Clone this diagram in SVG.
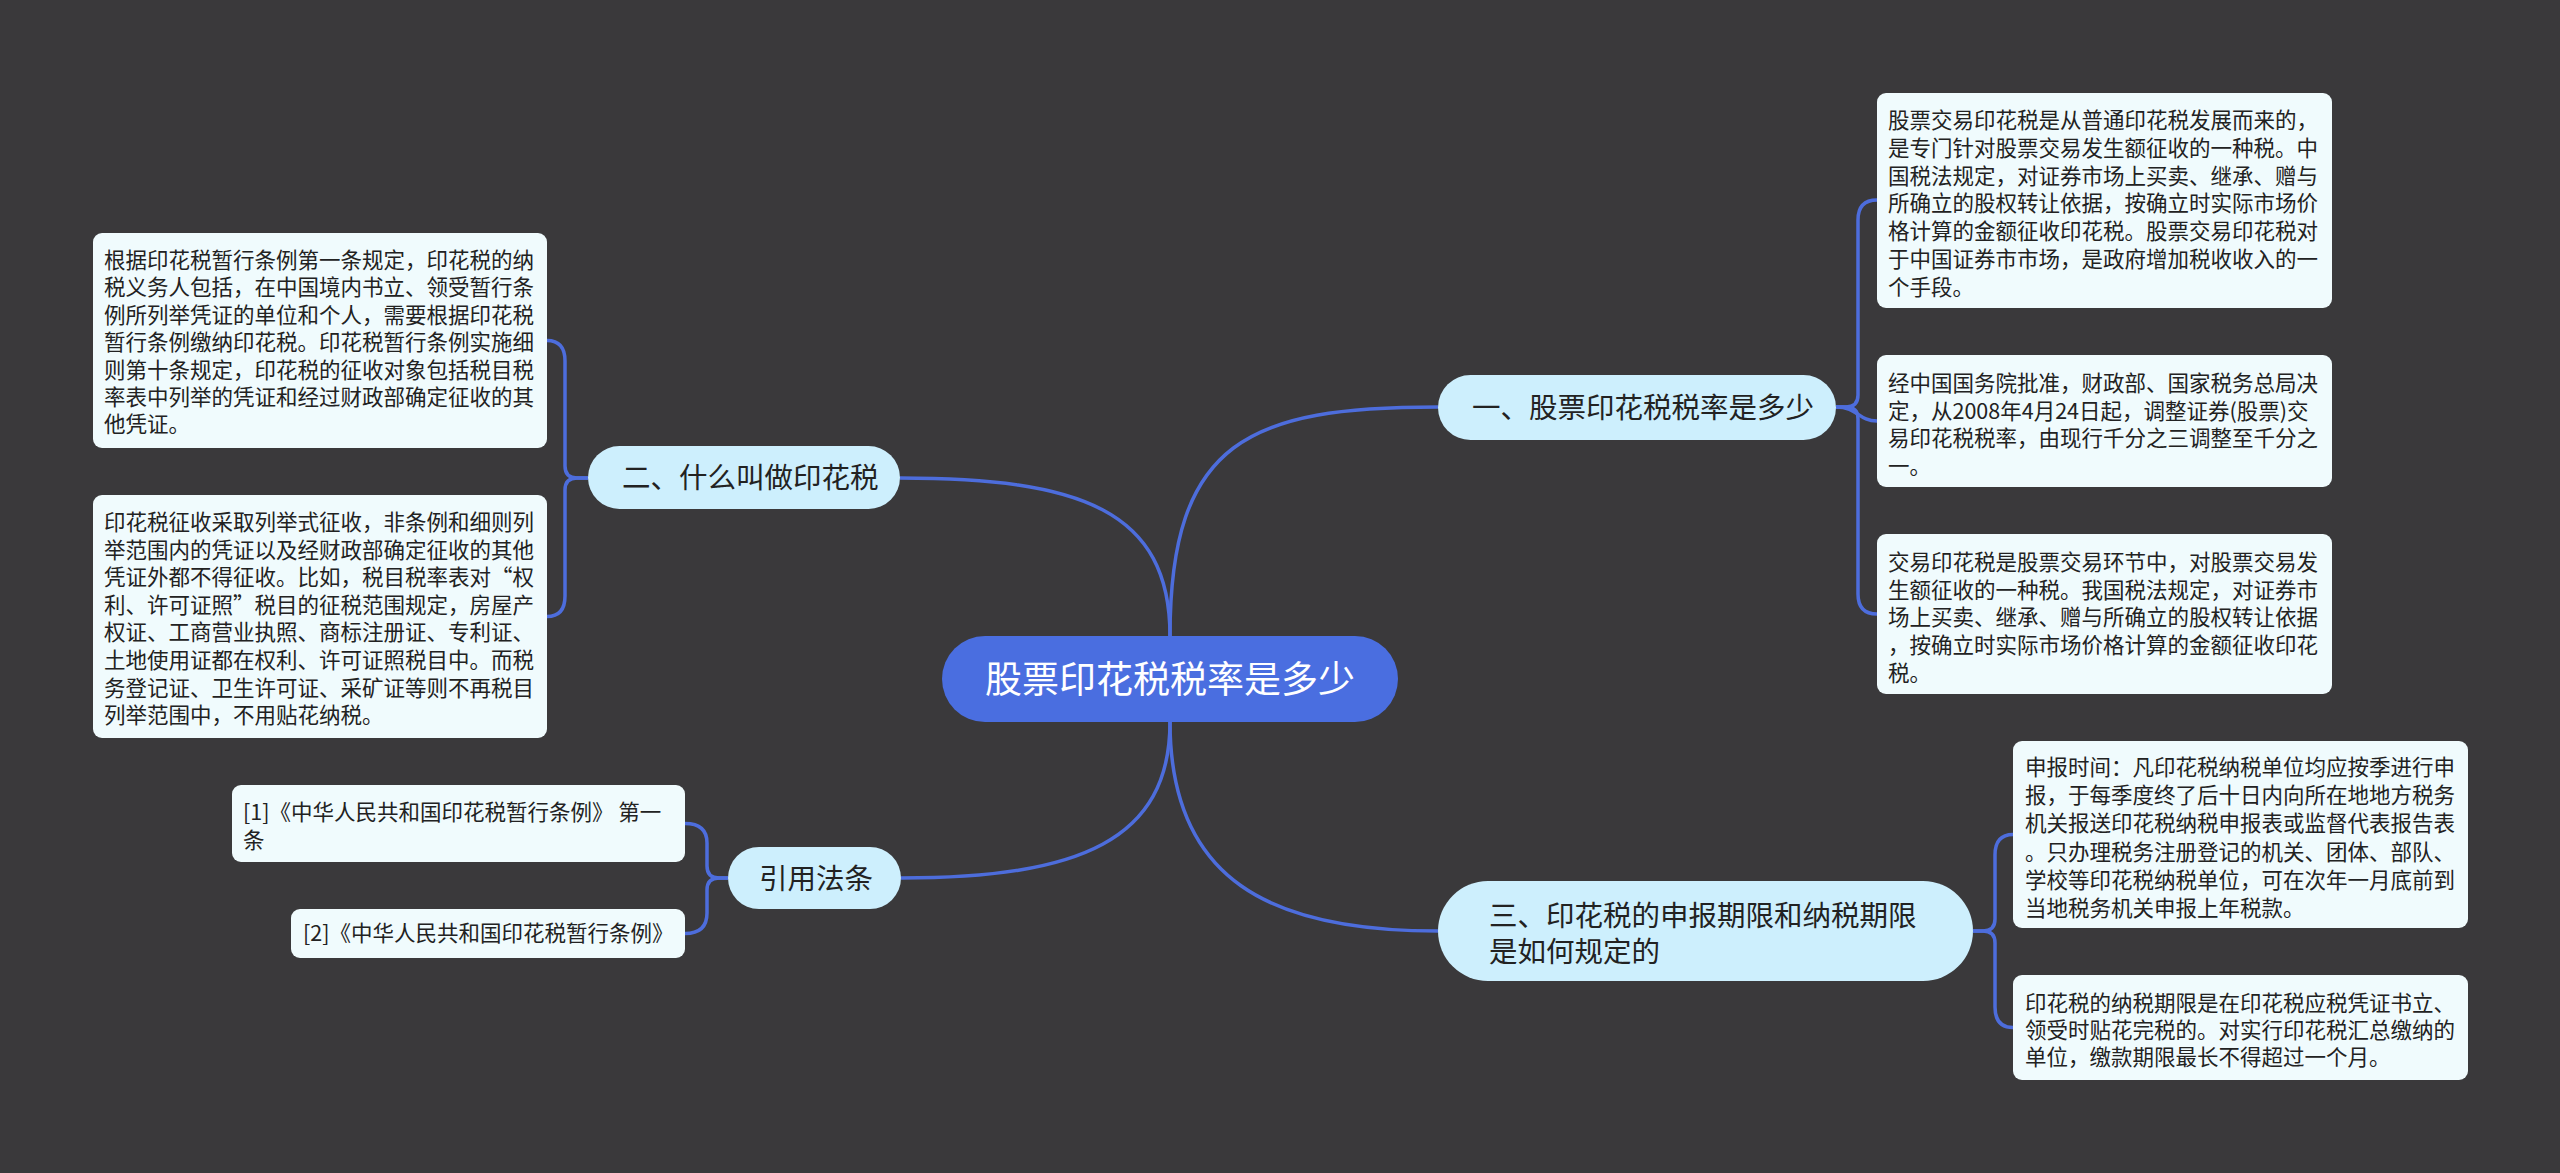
<svg xmlns="http://www.w3.org/2000/svg" width="2560" height="1173" viewBox="0 0 2560 1173">
<style>
text{font-family:"Noto Sans CJK SC","Noto Sans",sans-serif;}
.leaf rect{fill:#f0fbfd;}
.leaf text{font-size:21.5px;fill:#222;}
.branch rect{fill:#cdeffd;}
.branch text{font-size:28.5px;fill:#222;}
.root rect{fill:#4a6ee0;}
.root text{font-size:37px;fill:#fff;}
#connectors path{fill:none;stroke:#4d6ddc;stroke-width:3.5;}
</style>
<rect width="2560" height="1173" fill="#3a393b"/>
<g id="connectors">
<path d="M1170,636 C1170,440 1250,407 1438,407"/>
<path d="M1170,636 C1170,510 1080,478 900,478"/>
<path d="M1170,722 C1170,880 1270,931 1438,931"/>
<path d="M1170,722 C1170,840 1080,878 901,878"/>
<path d="M1836,407 H1846 Q1858,407 1858,395 V220 Q1858,200 1877,200"/>
<path d="M1836,407 C1858,407 1858,421 1877,421"/>
<path d="M1836,407 H1846 Q1858,407 1858,419 V594 Q1858,614 1877,614"/>
<path d="M1973,931 H1983 Q1995,931 1995,919 V855 Q1995,834.5 2013,834.5"/>
<path d="M1973,931 H1983 Q1995,931 1995,943 V1007 Q1995,1027.5 2013,1027.5"/>
<path d="M588,478 H577 Q565,478 565,466 V361 Q565,340.5 547,340.5"/>
<path d="M588,478 H577 Q565,478 565,490 V596 Q565,616.5 547,616.5"/>
<path d="M728,878 H719 Q707,878 707,866 V843 Q707,823.5 685,823.5"/>
<path d="M728,878 H719 Q707,878 707,890 V913 Q707,933.5 685,933.5"/>
</g>
<g id="root" class="root">
<rect x="942" y="636" width="456" height="86" rx="43"/>
<text x="985" y="693">股票印花税税率是多少</text>
</g>
<g id="b1" class="branch">
<rect x="1438" y="375" width="398" height="65" rx="32.5"/>
<text x="1472" y="418">一、股票印花税税率是多少</text>
</g>
<g id="b2" class="branch">
<rect x="588" y="446" width="312" height="63" rx="31.5"/>
<text x="622" y="488">二、什么叫做印花税</text>
</g>
<g id="b3" class="branch">
<rect x="1438" y="881" width="535" height="100" rx="50"/>
<text x="1489" y="926">三、印花税的申报期限和纳税期限<tspan x="1489" y="962">是如何规定的</tspan></text>
</g>
<g id="b4" class="branch">
<rect x="728" y="847" width="173" height="62" rx="31"/>
<text x="759" y="889">引用法条</text>
</g>
<g id="l1a" class="leaf">
<rect x="1877" y="93" width="455" height="215" rx="9"/>
<text x="1888" y="128"><tspan x="1888">股票交易印花税是从普通印花税发展而来的，</tspan><tspan x="1888" dy="27.8">是专门针对股票交易发生额征收的一种税。中</tspan><tspan x="1888" dy="27.8">国税法规定，对证券市场上买卖、继承、赠与</tspan><tspan x="1888" dy="27.8">所确立的股权转让依据，按确立时实际市场价</tspan><tspan x="1888" dy="27.8">格计算的金额征收印花税。股票交易印花税对</tspan><tspan x="1888" dy="27.8">于中国证券市市场，是政府增加税收收入的一</tspan><tspan x="1888" dy="27.8">个手段。</tspan></text>
</g>
<g id="l1b" class="leaf">
<rect x="1877" y="355" width="455" height="132" rx="9"/>
<text x="1888" y="391"><tspan x="1888">经中国国务院批准，财政部、国家税务总局决</tspan><tspan x="1888" dy="27.5">定，从2008年4月24日起，调整证券(股票)交</tspan><tspan x="1888" dy="27.5">易印花税税率，由现行千分之三调整至千分之</tspan><tspan x="1888" dy="27.5">一。</tspan></text>
</g>
<g id="l1c" class="leaf">
<rect x="1877" y="534" width="455" height="160" rx="9"/>
<text x="1888" y="570"><tspan x="1888">交易印花税是股票交易环节中，对股票交易发</tspan><tspan x="1888" dy="27.7">生额征收的一种税。我国税法规定，对证券市</tspan><tspan x="1888" dy="27.7">场上买卖、继承、赠与所确立的股权转让依据</tspan><tspan x="1888" dy="27.7">，按确立时实际市场价格计算的金额征收印花</tspan><tspan x="1888" dy="27.7">税。</tspan></text>
</g>
<g id="l3a" class="leaf">
<rect x="2013" y="741" width="455" height="187" rx="9"/>
<text x="2025" y="775"><tspan x="2025">申报时间：凡印花税纳税单位均应按季进行申</tspan><tspan x="2025" dy="28.2">报，于每季度终了后十日内向所在地地方税务</tspan><tspan x="2025" dy="28.2">机关报送印花税纳税申报表或监督代表报告表</tspan><tspan x="2025" dy="28.2">。只办理税务注册登记的机关、团体、部队、</tspan><tspan x="2025" dy="28.2">学校等印花税纳税单位，可在次年一月底前到</tspan><tspan x="2025" dy="28.2">当地税务机关申报上年税款。</tspan></text>
</g>
<g id="l3b" class="leaf">
<rect x="2013" y="975" width="455" height="105" rx="9"/>
<text x="2025" y="1011"><tspan x="2025">印花税的纳税期限是在印花税应税凭证书立、</tspan><tspan x="2025" dy="27">领受时贴花完税的。对实行印花税汇总缴纳的</tspan><tspan x="2025" dy="27">单位，缴款期限最长不得超过一个月。</tspan></text>
</g>
<g id="l2a" class="leaf">
<rect x="93" y="233" width="454" height="215" rx="9"/>
<text x="104" y="268"><tspan x="104">根据印花税暂行条例第一条规定，印花税的纳</tspan><tspan x="104" dy="27.4">税义务人包括，在中国境内书立、领受暂行条</tspan><tspan x="104" dy="27.4">例所列举凭证的单位和个人，需要根据印花税</tspan><tspan x="104" dy="27.4">暂行条例缴纳印花税。印花税暂行条例实施细</tspan><tspan x="104" dy="27.4">则第十条规定，印花税的征收对象包括税目税</tspan><tspan x="104" dy="27.4">率表中列举的凭证和经过财政部确定征收的其</tspan><tspan x="104" dy="27.4">他凭证。</tspan></text>
</g>
<g id="l2b" class="leaf">
<rect x="93" y="495" width="454" height="243" rx="9"/>
<text x="104" y="530"><tspan x="104">印花税征收采取列举式征收，非条例和细则列</tspan><tspan x="104" dy="27.6">举范围内的凭证以及经财政部确定征收的其他</tspan><tspan x="104" dy="27.6">凭证外都不得征收。比如，税目税率表对“权</tspan><tspan x="104" dy="27.6">利、许可证照”税目的征税范围规定，房屋产</tspan><tspan x="104" dy="27.6">权证、工商营业执照、商标注册证、专利证、</tspan><tspan x="104" dy="27.6">土地使用证都在权利、许可证照税目中。而税</tspan><tspan x="104" dy="27.6">务登记证、卫生许可证、采矿证等则不再税目</tspan><tspan x="104" dy="27.6">列举范围中，不用贴花纳税。</tspan></text>
</g>
<g id="l4a" class="leaf">
<rect x="232" y="785" width="453" height="77" rx="9"/>
<text x="243" y="820"><tspan x="243">[1]《中华人民共和国印花税暂行条例》 第一</tspan><tspan x="243" dy="28">条</tspan></text>
</g>
<g id="l4b" class="leaf">
<rect x="291" y="909" width="394" height="49" rx="9"/>
<text x="303" y="941">[2]《中华人民共和国印花税暂行条例》</text>
</g>
</svg>
